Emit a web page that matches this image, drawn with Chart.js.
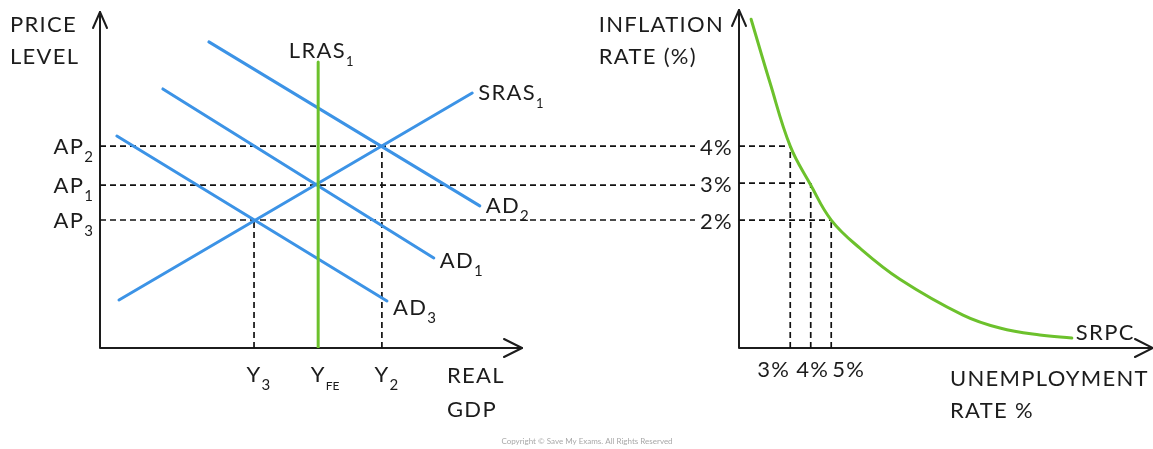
<!DOCTYPE html>
<html><head><meta charset="utf-8">
<script src="https://cdn.jsdelivr.net/npm/chart.js@4.4.0/dist/chart.umd.min.js"></script>
<style>
html,body{margin:0;padding:0;background:#fff;overflow:hidden}
#wrap{position:relative;width:1153px;height:449px;background:#fff}
canvas{position:absolute;left:0;top:0}
</style></head><body>
<div id="wrap"><canvas id="adas" width="1153" height="449"></canvas><canvas id="pc" width="1153" height="449"></canvas></div>
<script>
// ---------- AD/AS diagram (index units: real GDP 0-100, price level 0-100)
const gdpTicks = [36.5, 51.7, 66.8];
const gdpTickMain = ['Y', 'Y', 'Y'];
const gdpTickSub = ['3', 'FE', '2'];
const priceTicks = [60.1, 48.5, 38.1];
const priceTickMain = ['AP', 'AP', 'AP'];
const priceTickSub = ['2', '1', '3'];
const srasGdp = [4.5, 88.2];   const srasPrice = [14.3, 75.9];
const ad1Gdp = [14.9, 79.1];   const ad1Price = [77.1, 26.8];
const ad2Gdp = [25.8, 90.0];   const ad2Price = [91.1, 42.3];
const ad3Gdp = [4.0, 68.0];    const ad3Price = [63.1, 14.0];
const lrasGdp = [51.7, 51.7];  const lrasPrice = [0, 85.1];
const guideEndGdp = 141;
// ---------- Short-run Phillips curve (unemployment %, inflation %)
const unempTicks = [3, 4, 5];
const unempTickLabels = ['3%', '4%', '5%'];
const inflTicks = [4, 3, 2];
const inflTickLabels = ['4%', '3%', '2%'];
const srpcUnemp = [1.09, 2.01, 3, 4, 5, 6.40, 8.35, 11.43, 13.23, 15.18, 16.74];
const srpcInfl  = [7.43, 5.72, 4, 2.95, 2, 1.24, 0.40, -0.57, -0.92, -1.11, -1.19];

const BLUE = '#3c93e6', GREEN = '#6cc12c', INK = '#1c1c1c';
const FONT = '"Lato", "Open Sans", sans-serif';
const zip = (xs, ys) => xs.map((x, i) => ({x, y: ys[i]}));

function solid(data, color) {
  return {data, borderColor: color, borderWidth: 3, pointRadius: 0, tension: 0, borderCapStyle: 'round'};
}
function dashed(data, clip) {
  const d = {data, borderColor: '#111', borderWidth: 1.7, borderDash: [6, 4], pointRadius: 0, tension: 0};
  if (clip === false) d.clip = false;
  return d;
}
function arrowUp(ctx, x, y) {
  ctx.beginPath(); ctx.moveTo(x - 7, y + 16); ctx.lineTo(x, y); ctx.lineTo(x + 7, y + 16); ctx.stroke();
}
function arrowRight(ctx, x, y) {
  ctx.beginPath(); ctx.moveTo(x - 18, y - 9); ctx.lineTo(x, y); ctx.lineTo(x - 18, y + 9); ctx.stroke();
}
function setFont(ctx, size) { ctx.font = '400 ' + size + 'px ' + FONT; ctx.letterSpacing = size > 16 ? '1.3px' : '0px'; }
function text(ctx, s, x, y, align) { setFont(ctx, 22); ctx.textAlign = align || 'left'; ctx.fillText(s, x, y); }
// main text + subscript; align refers to placement of the main text ('center') or the whole group
function subText(ctx, main, sub, x, y, align, subSize) {
  subSize = subSize || 15;
  setFont(ctx, 22); const wm = ctx.measureText(main).width;
  setFont(ctx, subSize); const ws = ctx.measureText(sub).width;
  let x0 = x;
  if (align === 'right') x0 = x - wm - ws;
  else if (align === 'center') x0 = x - wm / 2;
  else if (align === 'group') x0 = x - (wm + ws) / 2;
  ctx.textAlign = 'left';
  setFont(ctx, 22); ctx.fillText(main, x0, y);
  setFont(ctx, subSize); ctx.fillText(sub, x0 + wm, y + 8);
}

const common = {
  type: 'line',
  options: {
    responsive: false, animation: false, events: [],
    plugins: {legend: {display: false}, tooltip: {enabled: false}},
    elements: {point: {radius: 0}}
  }
};

function axesPlugin(kind) {
  return {
    id: 'axes_' + kind,
    beforeDatasetsDraw(chart) {
      const {ctx, chartArea: a} = chart;
      ctx.save();
      ctx.strokeStyle = INK; ctx.lineWidth = 2; ctx.lineCap = 'round'; ctx.lineJoin = 'round';
      ctx.beginPath(); ctx.moveTo(a.left, a.top); ctx.lineTo(a.left, a.bottom); ctx.lineTo(a.right, a.bottom); ctx.stroke();
      arrowUp(ctx, a.left, a.top);
      arrowRight(ctx, a.right, a.bottom);
      ctx.restore();
    },
    afterDraw(chart) {
      const {ctx, chartArea: a, scales: {x, y}} = chart;
      ctx.save();
      ctx.fillStyle = INK; ctx.textBaseline = 'alphabetic';
      if (kind === 'adas') {
        text(ctx, 'PRICE', 10, 32); text(ctx, 'LEVEL', 10, 64);
        text(ctx, 'REAL', a.right - 75, 383); text(ctx, 'GDP', a.right - 75, 417);
        priceTicks.forEach((v, i) => subText(ctx, priceTickMain[i], priceTickSub[i], a.left - 7, y.getPixelForValue(v) + 8, 'right'));
        gdpTicks.forEach((v, i) => subText(ctx, gdpTickMain[i], gdpTickSub[i], x.getPixelForValue(v), a.bottom + 34, 'center', gdpTickSub[i].length > 1 ? 12 : 15));
        subText(ctx, 'LRAS', '1', x.getPixelForValue(lrasGdp[1]) + 3, y.getPixelForValue(lrasPrice[1]) - 4, 'group', 13);
        const ends = [[srasGdp, srasPrice, 'SRAS', 7], [ad2Gdp, ad2Price, 'AD', 7, '2'], [ad1Gdp, ad1Price, 'AD', 10, '1'], [ad3Gdp, ad3Price, 'AD', 14, '3']];
        ends.forEach(([gx, gy, name, dy, s]) => {
          subText(ctx, name, s || '1', x.getPixelForValue(gx[1]) + 6, y.getPixelForValue(gy[1]) + dy, 'left', name === 'SRAS' ? 13 : 15);
        });
        ctx.fillStyle = '#a8a8a8'; ctx.font = '8px ' + FONT; ctx.letterSpacing = '0px'; ctx.textAlign = 'center';
        ctx.fillText('Copyright \u00A9 Save My Exams. All Rights Reserved', 587, 444);
      } else {
        text(ctx, 'INFLATION', a.left - 15, 32, 'right');
        setFont(ctx, 22); const wInf = ctx.measureText('INFLATION').width;
        text(ctx, 'RATE (%)', a.left - 15 - wInf, 64, 'left');
        inflTicks.forEach((v, i) => text(ctx, inflTickLabels[i], a.left - 6, y.getPixelForValue(v) + 9, 'right'));
        const aligns = ['right', 'center', 'left'];
        unempTicks.forEach((v, i) => text(ctx, unempTickLabels[i], x.getPixelForValue(v) + (i === 1 ? 2 : i === 2 ? 1 : 0), a.bottom + 29, aligns[i]));
        const n = srpcUnemp.length - 1;
        text(ctx, 'SRPC', x.getPixelForValue(srpcUnemp[n]) + 4, y.getPixelForValue(srpcInfl[n]) + 2, 'left');
        text(ctx, 'UNEMPLOYMENT', 950, 386, 'left');
        text(ctx, 'RATE %', 950, 418, 'left');
      }
      ctx.restore();
    }
  };
}

function init() {
  // ----- left chart
  const adasSets = [
    solid(zip(lrasGdp, lrasPrice), GREEN),
    solid(zip(srasGdp, srasPrice), BLUE),
    solid(zip(ad1Gdp, ad1Price), BLUE),
    solid(zip(ad2Gdp, ad2Price), BLUE),
    solid(zip(ad3Gdp, ad3Price), BLUE)
  ];
  priceTicks.forEach(p => adasSets.push(dashed([{x: 0, y: p}, {x: guideEndGdp, y: p}], false)));
  adasSets.push(dashed([{x: gdpTicks[0], y: 0}, {x: gdpTicks[0], y: priceTicks[2]}]));
  adasSets.push(dashed([{x: gdpTicks[2], y: 0}, {x: gdpTicks[2], y: priceTicks[0]}]));

  new Chart(document.getElementById('adas'), {
    type: 'line',
    data: {datasets: adasSets},
    options: Object.assign({}, common.options, {
      layout: {padding: {left: 100, top: 12, right: 631, bottom: 101}},
      scales: {
        x: {type: 'linear', min: 0, max: 100, display: false},
        y: {type: 'linear', min: 0, max: 100, display: false}
      }
    }),
    plugins: [axesPlugin('adas')]
  });

  // ----- right chart
  const uMin = 0.5, iMin = -1.46;
  const pcSets = [Object.assign(solid(zip(srpcUnemp, srpcInfl), GREEN), {tension: 0.4})];
  unempTicks.forEach((u, i) => {
    pcSets.push(dashed([{x: uMin, y: inflTicks[i]}, {x: u, y: inflTicks[i]}]));
    pcSets.push(dashed([{x: u, y: iMin}, {x: u, y: inflTicks[i]}]));
  });
  new Chart(document.getElementById('pc'), {
    type: 'line',
    data: {datasets: pcSets},
    options: Object.assign({}, common.options, {
      layout: {padding: {left: 739, top: 10, right: 0, bottom: 101}},
      scales: {
        x: {type: 'linear', min: uMin, max: 20.7, display: false},
        y: {type: 'linear', min: iMin, max: 7.68, display: false}
      }
    }),
    plugins: [axesPlugin('pc')]
  });
}
if (document.fonts && document.fonts.load) {
  document.fonts.load('22px Lato').then(init, init);
} else { init(); }
</script>
</body></html>
